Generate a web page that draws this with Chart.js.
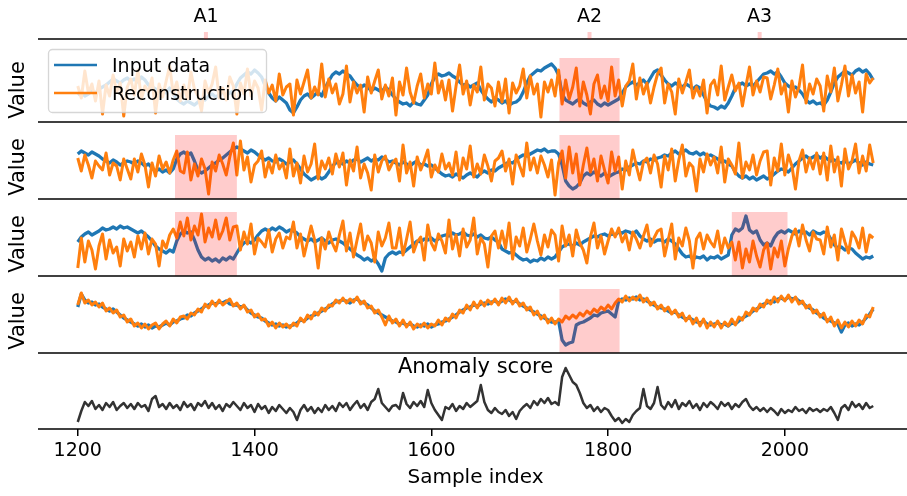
<!DOCTYPE html>
<html>
<head>
<meta charset="utf-8">
<script src="https://cdn.jsdelivr.net/npm/chart.js@4.4.0/dist/chart.umd.min.js"></script>
<style>
  html, body { margin: 0; padding: 0; background: #fff; overflow: hidden; }
  #wrap { position: relative; width: 907px; height: 496px; overflow: hidden; }
  #wrap canvas { position: absolute; left: 0; }
</style>
</head>
<body>
<div id="wrap">
  <canvas id="panel1"></canvas>
  <canvas id="panel2"></canvas>
  <canvas id="panel3"></canvas>
  <canvas id="panel4"></canvas>
  <canvas id="panel5"></canvas>
</div>
<script>
// sample index of the first value, one value every SAMPLE_STEP samples
const SAMPLE_START = 1200
const SAMPLE_STEP = 4
const X_TICKS = [1200, 1400, 1600, 1800, 2000]

const ANOMALY_NAMES = ['A1', 'A2', 'A3']
const ANOMALY_FROM = [1310, 1745, 1940]
const ANOMALY_TO = [1380, 1813, 2003]

const input1 = [
  -0.5, -0.2, -0.6, -0.4, -0.1, -0.3, 0.1, 0.3, 0.5, 0.8, 1.1, 0.9, 0.7, 1.0, 1.2,
  0.9, 1.1, 0.8, 1.3, 1.0, 0.5, 0.3, 0.1, -0.2, 0.0, -0.3, 0.2, -0.4, -0.9, -1.2,
  -1.4, -1.1, -1.3, -1.5, -1.2, -0.9, -1.0, -0.6, -0.4, -0.7, -0.5, -0.2, -0.5, -0.3, -0.1,
  0.6, 1.2, 1.5, 1.8, 1.6, 2.0, 1.7, 1.3, 0.4, -0.3, -0.8, -1.1, -0.7, -1.0, -1.3,
  -2.0, -2.3, -1.7, -1.0, -0.6, -0.4, -0.8, -0.5, -0.2, -0.6, 0.2, 0.9, 1.5, 1.8, 1.6,
  1.9, 1.6, 1.4, 0.9, 0.5, 0.2, 0.5, 0.3, -0.1, 0.2, 0.0, -0.2, 0.3, 0.0, -0.5,
  -0.9, -1.2, -1.4, -1.3, -1.6, -1.2, -1.4, -1.5, -1.0, -0.5, 0.6, 1.3, 1.6, 1.4, 1.5,
  1.7, 1.4, 1.2, 0.8, 0.5, 0.6, 0.3, 0.5, 0.7, 0.0, -0.5, -0.9, -1.2, -0.8, -1.0,
  -1.3, -1.1, -1.5, -1.3, -1.2, -0.9, -0.2, 0.7, 1.4, 1.7, 2.0, 1.9, 2.2, 2.4, 2.6,
  2.2, 1.5, -0.4, -1.0, -1.2, -1.4, -1.1, -0.9, -1.3, -1.5, -1.2, -1.0, -1.4, -1.6, -1.3,
  -1.5, -1.3, -1.1, -0.9, -0.3, 0.3, 0.6, 0.8, 0.5, 0.7, 1.0, 0.6, 1.2, 1.8, 2.0,
  1.5, 1.0, 0.6, 0.4, 0.7, 0.5, 0.3, 0.6, 0.4, 0.1, 0.4, 0.2, -0.5, -1.2, -1.6,
  -1.7, -1.9, -1.6, -1.8, -1.3, -0.6, 0.2, 0.5, 0.7, 0.4, 0.6, 0.4, 0.8, 1.2, 1.6,
  1.7, 1.9, 1.6, 1.8, 1.3, 0.7, 0.4, 0.2, 0.3, 0.0, -0.4, -1.0, -1.3, -1.1, -1.4,
  -1.3, -1.5, -1.0, -0.2, 0.7, 1.3, 1.6, 1.9, 1.7, 1.5, 1.9, 2.1, 1.8, 2.0, 1.6,
  1.0
]
const recon1 = [
  0.4, -0.8, 1.9, -0.3, 0.6, -1.1, 0.9, -2.4, 0.5, -0.6, 1.5, -0.2, 0.7, -2.6, 0.3,
  1.1, -0.5, 2.0, -0.9, 0.4, -0.2, 1.2, -2.3, 0.6, -0.7, 0.9, 2.4, -0.4, 0.8, -1.1,
  0.5, -0.9, 1.8, 0.1, -0.6, -2.1, 0.9, -0.3, 0.6, 2.3, -0.8, 0.2, -1.0, 1.3, 0.4,
  -2.4, 0.7, -0.4, 2.1, -0.6, 0.9, 0.2, -2.0, 1.0, -0.3, 0.5, -1.1, 1.6, -0.5, 0.3,
  0.6, -2.5, 1.0, -0.4, 0.8, 2.0, -0.8, 0.3, -0.5, 2.6, -0.7, 1.1, -0.3, 0.6, -1.4,
  -0.4, 2.4, -1.2, 0.8, -0.3, 0.5, -2.2, 1.3, -0.3, 0.9, 2.0, -0.9, 0.5, -0.6, 1.2,
  -2.5, 0.8, -0.5, 2.2, -0.2, -1.3, 0.4, 1.6, -0.8, 0.6, -0.4, 2.7, -0.3, 0.9, -1.0,
  1.0, -2.1, 0.4, 2.5, -0.4, 0.9, -1.5, 0.5, -0.2, 2.3, -1.0, 0.6, 0.2, -1.6, 0.8,
  -1.2, 1.1, -2.3, 0.7, -0.3, 0.4, 2.1, -0.8, 1.4, -0.4, 0.6, -2.7, 0.8, -0.2, 1.0,
  -0.6, 2.0, -1.4, 1.0, -0.9, 0.3, 2.2, -1.6, 0.8, -0.5, -2.4, 0.6, 1.5, -0.8, 0.4,
  -1.1, 2.3, -0.6, 1.0, -1.6, 0.4, 0.9, 2.6, -0.9, 1.2, -0.4, 0.7, -1.3, 0.3, 1.6,
  2.2, -1.3, 0.6, -0.2, -2.4, 1.1, -0.3, 0.8, 2.0, -0.8, 0.3, -0.6, 1.0, -2.3, 0.5,
  1.0, -0.5, 2.4, -1.0, 0.3, 1.5, -0.1, 0.7, -1.6, 0.4, 2.3, -0.5, 0.9, -0.2, 1.3,
  1.2, -0.9, 0.5, 2.1, -0.4, 0.6, -2.2, 0.9, -0.7, 0.3, 2.5, -1.3, 0.6, -0.4, 1.1,
  0.4, -2.1, 1.4, -0.2, 2.2, -1.1, 0.5, 2.4, -0.6, 1.5, -0.3, 0.8, -2.2, 1.6, 0.7,
  1.2
]

const input2 = [
  1.3, 1.6, 1.4, 1.2, 1.5, 1.3, 1.1, 0.8, 0.6, 0.4, 0.7, 0.5, 0.2, 0.4, 0.6,
  0.5, 0.3, 0.6, 0.4, 0.1, 0.3, -0.1, -0.4, -0.2, -0.5, -0.3, -0.6, -0.2, 0.8, 1.3,
  1.5, 1.2, 1.4, 0.6, -0.3, -0.6, -0.4, -0.1, 0.2, 0.4, 0.7, 0.9, 1.2, 1.5, 1.8,
  2.0, 1.8, 1.6, 1.4, 1.7, 1.5, 1.2, 0.9, 0.7, 0.9, 0.6, 0.5, 0.8, 0.6, 0.3,
  0.5, 0.7, 0.3, -0.2, -0.7, -1.0, -1.3, -1.1, -0.9, -1.2, -1.0, -0.5, 0.1, 0.4, 0.5,
  0.3, 0.6, 0.4, 0.7, 0.8, 0.5, 0.7, 0.9, 0.6, 0.8, 0.7, 1.0, 0.8, 0.5, 0.6,
  0.4, 0.2, 0.5, 0.3, 0.1, 0.4, 0.6, 0.2, 0.3, 0.1, 0.2, -0.1, -0.4, -0.7, -0.9,
  -0.8, -1.0, -0.7, -0.9, -1.1, -0.8, -0.6, -0.8, -1.0, -0.6, -0.4, -0.6, -0.3, -0.4, -0.1,
  0.1, 0.3, 0.5, 0.4, 0.7, 1.0, 1.2, 1.1, 1.3, 1.5, 1.7, 1.6, 1.8, 1.5, 1.6,
  1.6, 1.3, 0.2, -1.4, -1.9, -2.2, -2.0, -1.6, -0.9, -0.6, -0.8, -0.5, -0.7, -0.9, -0.6,
  -1.0, -0.8, -0.6, -0.5, -0.2, -0.3, 0.0, 0.2, 0.4, 0.3, 0.6, 0.5, 0.8, 0.7, 0.9,
  1.0, 1.2, 1.1, 1.4, 1.6, 1.3, 1.5, 1.7, 1.4, 1.3, 1.5, 1.2, 1.4, 1.1, 1.2,
  1.0, 0.8, 0.5, 0.6, 0.3, 0.1, -0.5, -0.9, -1.1, -0.9, -1.2, -1.0, -1.3, -1.1, -0.9,
  -1.2, -1.0, -0.7, -0.4, -0.2, -0.3, -0.5, -0.1, 0.3, 0.6, 0.9, 1.1, 0.8, 1.0, 1.2,
  0.9, 1.1, 0.8, 0.6, 0.7, 0.5, 0.4, 0.6, 0.3, 0.5, 0.7, 0.4, 0.2, 0.5, 0.3,
  0.2
]
const recon2 = [
  0.9, -0.4, 1.2, 0.2, -1.1, 0.6, 0.1, -0.3, 1.4, -0.8, 0.4, 0.1, -1.3, 0.8, -0.2,
  -1.2, 0.8, -0.5, 1.3, 0.2, -2.0, 0.4, -0.9, 1.1, -0.2, 0.5, -0.6, 0.7, 1.6, -0.4,
  -0.6, 1.5, -1.3, 0.3, -0.9, 0.8, -0.2, -2.7, 0.5, -0.4, 1.2, 0.3, -0.8, 1.0, 2.4,
  -0.8, 2.6, -0.3, 1.0, -1.5, 0.2, 0.6, 1.6, -1.0, 0.5, -0.6, 1.2, -0.2, 0.4, -1.1,
  1.8, -0.9, 0.4, -1.6, 1.1, -0.5, 0.3, 2.3, -1.2, 0.6, -0.2, 0.9, -0.7, 1.3, 0.0,
  1.4, -1.8, 0.7, -0.4, 2.0, -1.1, 0.3, -0.6, -2.3, 1.2, -0.5, 0.6, 1.1, -0.3, 0.4,
  0.8, -1.4, 2.2, -0.6, 0.5, -1.9, 1.0, -0.3, 0.6, 1.7, -1.0, 0.2, -0.5, 1.3, -0.2,
  0.4, -0.8, 1.5, -1.3, 0.9, -0.2, 2.1, -1.0, 0.3, -0.7, 1.2, 0.1, -1.4, 0.6, 0.9,
  1.6, -0.4, 0.8, -1.7, 1.2, 0.1, -0.9, 2.4, -0.3, 0.9, -0.6, 1.1, 0.2, -1.0, 0.7,
  -2.8, 0.4, 1.6, -1.1, 2.0, -0.6, 1.3, -1.8, 0.2, 1.9, -0.5, 0.8, -1.4, 1.1, -0.3,
  -1.6, 1.5, -0.4, 1.0, -2.2, 0.6, -0.8, 1.7, 0.1, -1.3, 0.5, 0.9, -0.6, 1.2, 0.3,
  -2.0, 1.1, -0.3, 1.8, -1.4, 0.7, 2.2, -0.9, 0.4, 0.0, -2.4, 0.8, -0.5, 1.3, 0.2,
  1.0, -0.6, 2.0, -1.5, 0.8, 0.2, -0.7, 2.4, -1.1, 0.5, -0.3, 1.2, -0.8, 0.6, 1.5,
  1.6, -1.8, 0.9, -0.4, 2.3, -0.8, 1.2, 0.1, -2.2, 0.6, 1.7, -0.5, 0.9, -0.2, 1.4,
  -0.7, 1.4, -1.3, 2.1, -0.5, 1.0, -1.9, 1.8, -0.2, 0.6, 2.3, -0.6, 1.1, -0.4, 2.2,
  0.4
]

const input3 = [
  0.2, 0.7, 1.0, 1.2, 0.9, 1.1, 1.3, 1.6, 1.4, 1.5, 1.7, 1.5, 1.8, 1.6, 1.7,
  1.5, 1.3, 1.1, 1.3, 1.0, 0.7, 0.3, -0.2, -0.5, -0.7, -0.9, -0.6, -0.8, 0.3, 1.0,
  1.3, 1.1, 1.2, 0.4, -0.6, -1.3, -1.6, -1.4, -1.7, -1.5, -1.8, -1.4, -1.6, -1.3, -1.5,
  -0.9, -0.3, 0.1, 0.3, 0.1, 0.4, 0.9, 1.3, 1.5, 1.3, 1.6, 1.4, 1.7, 1.5, 1.2,
  1.4, 1.3, 1.1, 0.7, 0.5, 0.3, 0.5, 0.2, 0.4, 0.6, 0.3, 0.1, 0.4, 0.5, 0.3,
  0.1, -0.2, -0.5, -0.8, -1.1, -1.3, -1.6, -1.4, -1.7, -1.5, -2.0, -2.7, -1.4, -1.0, -0.8,
  -1.0, -0.8, -0.9, -0.6, -0.3, 0.0, 0.3, 0.2, 0.5, 0.4, 0.6, 0.3, 0.5, 0.8, 0.9,
  0.8, 1.1, 0.9, 1.0, 1.2, 0.9, 0.8, 1.0, 0.7, 0.9, 0.6, 0.5, 0.7, 0.4, 0.2,
  -0.5, -0.7, -0.9, -0.8, -1.1, -1.4, -1.6, -1.5, -1.8, -1.6, -1.7, -1.4, -1.6, -1.3, -1.5,
  -1.3, -0.8, -0.3, -0.1, 0.0, -0.2, 0.1, -0.1, 0.2, 0.4, 0.6, 0.8, 0.7, 0.9, 1.0,
  0.8, 1.0, 0.9, 1.2, 1.1, 1.3, 1.2, 1.0, 1.3, 0.8, 0.5, 0.3, 0.5, 0.2, 0.4,
  0.4, 0.2, 0.5, 0.3, 0.0, -0.5, -1.0, -1.3, -1.2, -1.5, -1.3, -1.4, -1.2, -1.6, -1.3,
  -1.4, -1.2, -1.5, -1.3, -1.1, 0.9, 1.5, 1.3, 1.6, 2.8, 1.4, 1.1, 1.3, 0.4, -0.1,
  0.1, -0.2, 0.6, 1.1, 1.3, 1.1, 1.4, 1.2, 1.0, 1.3, 1.1, 1.2, 0.9, 1.3, 1.1,
  1.0, 1.2, 1.1, 0.5, -0.1, -0.4, -0.3, -0.6, -0.4, -0.5, -0.9, -1.2, -1.5, -1.3, -1.4,
  -1.2
]
const recon3 = [
  -2.4, 0.6, -1.8, 0.3, -0.6, -2.5, -0.2, 1.0, -1.5, 0.4, -0.9, -0.3, -2.2, 0.5, -0.7,
  0.2, -1.3, 0.8, -0.5, 1.1, -1.0, 0.5, 0.0, -2.2, 0.3, -0.4, 0.9, 1.5, 0.6, 2.2,
  0.8, 2.6, 0.4, 1.8, 0.9, 3.0, 0.2, 1.6, 0.7, 2.4, 0.5, 1.3, 2.6, 0.4, 1.7,
  1.8, -0.6, 1.2, 0.0, 2.0, -1.0, 0.6, 0.2, -0.3, 1.4, -0.8, 0.5, 1.1, -0.4, 0.7,
  0.5, 2.2, -0.4, 1.0, -1.2, 0.3, 1.8, 0.4, -2.4, 0.6, -0.5, 1.2, 0.1, -0.7, 0.9,
  2.3, -0.7, 1.1, -1.3, 0.4, 2.0, -0.6, 0.8, 0.1, -1.8, 1.2, -0.2, 0.6, 2.1, -0.4,
  -0.4, 1.6, -1.1, 0.5, 2.2, -0.8, 0.2, 0.7, -1.6, 1.9, 0.1, -0.6, 1.0, 0.3, -0.9,
  2.4, -0.5, 0.9, -1.2, 1.5, -0.3, 0.4, 2.6, -1.0, 0.6, 0.0, -2.3, 0.8, 1.3, -0.4,
  1.3, -0.4, 2.1, -1.5, 0.7, -0.2, 1.6, -0.8, 0.5, 2.0, 0.3, -1.1, 0.9, -0.3, 1.4,
  0.9, -1.7, 1.8, -0.2, 0.9, -1.2, 1.4, 0.1, -0.6, -1.9, 0.7, 2.1, -0.4, 0.8, -1.0,
  0.3, 1.5, 0.7, 1.6, 0.2, 1.0, -0.6, 1.2, 0.5, -0.4, 0.8, 1.9, -0.2, 0.6, 1.3,
  1.5, -1.2, 0.4, 2.0, -1.5, 0.6, -0.2, 1.6, 0.3, -2.4, 0.5, 1.1, -0.5, 0.9, 0.2,
  -0.3, 1.3, -0.9, 0.6, -0.4, 0.2, -1.6, 0.2, -2.4, -0.5, -1.8, 0.3, -1.2, -2.3, -0.6,
  0.1, -2.5, -0.4, -1.3, 0.3, -2.2, -0.5, 0.8, 1.5, -0.2, 1.9, 0.4, -0.7, 1.2, 0.5,
  0.4, -1.0, 1.7, -0.3, 0.9, -1.6, 1.5, 0.2, -0.9, 1.2, 0.6, -0.4, 1.6, -0.8, 0.9,
  0.6
]

const input4 = [
  1.4, 2.7, 2.1, 1.8, 1.9, 1.6, 1.7, 1.4, 1.2, 1.0, 1.2, 0.9, 0.6, 0.3, 0.1,
  -0.1, -0.3, -0.5, -0.3, -0.6, -0.4, -0.7, -0.5, -0.6, -0.4, -0.2, -0.4, -0.1, 0.0, 0.2,
  0.3, 0.6, 0.5, 0.8, 1.0, 1.2, 1.5, 1.6, 1.8, 1.7, 1.9, 1.8, 2.0, 1.7, 1.6,
  1.6, 1.4, 1.5, 1.1, 0.8, 0.6, 0.4, 0.3, 0.0, -0.2, -0.4, -0.3, -0.5, -0.4, -0.6,
  -0.5, -0.4, -0.2, 0.1, 0.0, 0.3, 0.5, 0.6, 0.8, 1.0, 1.2, 1.4, 1.7, 1.9, 2.0,
  2.1, 2.0, 1.8, 2.1, 2.2, 1.9, 1.8, 1.6, 1.3, 1.0, 0.8, 0.6, 0.4, 0.2, 0.0,
  -0.1, -0.3, -0.2, -0.4, -0.3, -0.5, -0.6, -0.4, -0.5, -0.3, -0.6, -0.4, -0.3, -0.1, 0.0,
  0.2, 0.4, 0.6, 0.9, 1.1, 1.3, 1.4, 1.6, 1.5, 1.7, 1.8, 1.7, 1.9, 2.0, 1.8,
  2.0, 2.2, 2.1, 1.9, 2.0, 1.7, 1.5, 1.3, 1.1, 0.9, 0.7, 0.5, 0.3, 0.1, -0.1,
  -0.1, 0.0, -1.9, -2.4, -2.2, -2.1, -0.4, -0.2, -0.1, 0.1, 0.3, 0.6, 0.5, 0.8, 0.9,
  1.0, 0.7, 0.4, 2.0, 2.2, 2.1, 2.3, 2.2, 2.4, 2.1, 2.2, 2.0, 1.8, 1.6, 1.4,
  1.3, 1.2, 1.0, 0.8, 0.9, 0.6, 0.4, 0.2, 0.3, 0.1, -0.1, -0.2, 0.0, -0.3, -0.4,
  -0.3, -0.2, -0.4, -0.3, -0.5, -0.2, -0.3, 0.0, 0.3, 0.5, 0.7, 1.0, 1.2, 1.4, 1.7,
  1.8, 2.0, 1.9, 2.2, 2.3, 2.1, 2.4, 2.2, 2.3, 2.0, 1.8, 1.5, 1.3, 1.1, 0.8,
  0.6, 0.3, 0.1, 0.0, -0.2, -0.3, -1.1, -0.4, -0.2, -0.5, -0.3, -0.4, -0.1, 0.3, 0.7,
  1.2
]
const recon4 = [
  1.6, 2.8, 1.8, 2.1, 1.6, 1.9, 1.4, 1.8, 1.0, 1.3, 0.8, 1.1, 0.4, 0.6, -0.1,
  0.2, -0.5, -0.2, -0.7, -0.3, -0.8, -0.4, -0.2, -0.8, -0.3, 0.0, -0.5, 0.2, -0.2, 0.4,
  0.5, 0.2, 0.8, 0.6, 1.2, 0.9, 1.7, 1.3, 2.0, 1.5, 2.1, 1.6, 1.9, 2.2, 1.5,
  1.8, 1.2, 1.6, 0.9, 1.1, 0.4, 0.7, 0.1, 0.2, -0.5, -0.1, -0.7, -0.2, -0.6, -0.3,
  -0.7, -0.2, -0.5, 0.3, -0.1, 0.6, 0.2, 0.9, 0.6, 1.3, 1.0, 1.6, 1.5, 2.1, 1.8,
  2.3, 1.8, 2.2, 1.9, 2.4, 1.7, 2.0, 1.3, 1.5, 0.8, 1.1, 0.4, -0.4, 0.5, -0.2,
  0.2, -0.5, 0.1, -0.6, -0.1, -0.8, -0.3, -0.6, -0.2, -0.7, -0.3, -0.5, 0.1, -0.4, 0.3,
  0.0, 0.7, 0.3, 1.1, 0.8, 1.6, 1.1, 1.9, 1.3, 2.0, 1.5, 2.1, 1.7, 2.2, 1.6,
  2.3, 1.8, 2.4, 1.7, 2.2, 1.5, 1.8, 1.1, 1.4, 0.6, 1.0, 0.2, 0.6, -0.2, 0.3,
  -0.3, 0.2, -0.1, 0.5, 0.2, 0.6, 0.3, 0.8, 0.5, 1.0, 0.7, 1.2, 0.9, 1.4, 1.1,
  1.6, 1.2, 1.8, 2.2, 1.9, 2.5, 2.0, 2.4, 2.1, 2.6, 1.9, 2.3, 1.6, 1.9, 1.2,
  1.6, 1.0, 1.4, 0.7, 1.1, 0.4, 0.8, 0.0, 0.5, -0.3, 0.3, -0.5, 0.2, -0.7, -0.1,
  -0.6, 0.0, -0.7, -0.1, -0.5, 0.2, -0.4, 0.4, 0.1, 0.9, 0.6, 1.3, 1.0, 1.7, 1.4,
  2.1, 1.7, 2.4, 1.9, 2.5, 2.0, 2.6, 1.9, 2.4, 1.7, 2.0, 1.3, 1.6, 0.8, 1.1,
  0.4, 0.8, -0.1, 0.4, -0.5, 0.1, -0.7, -0.1, -0.6, 0.0, -0.5, 0.1, -0.3, 0.6, 0.4,
  1.4
]

const anomalyScore = [
  -2.5, -1.4, -0.5, -0.9, -0.4, -1.2, -0.8, -1.3, -0.6, -1.0, -0.5, -1.3, -0.9, -0.6, -1.1,
  -0.7, -1.2, -0.6, -1.0, -0.8, -1.4, -0.2, 0.1, -1.0, -0.7, -1.2, -0.6, -1.1, -0.8, -1.3,
  -0.5, -1.0, -0.7, -1.3, -0.6, -0.9, -0.4, -1.1, -0.6, -1.2, -0.8, -1.4, -0.7, -1.0, -0.5,
  -0.9, -1.3, -0.6, -1.1, -0.8, -1.5, -0.7, -1.2, -0.9, -1.6, -1.0, -1.4, -0.8, -1.2, -1.6,
  -1.1, -1.5, -2.3, -1.3, -0.8, -1.4, -1.0, -1.6, -1.1, -1.5, -0.8, -1.3, -0.9, -1.4, -0.6,
  -1.0, -0.6, -1.3, -0.8, -0.4, -1.1, -0.7, -1.3, -0.5, -0.2, 0.8, -0.6, -1.0, -1.4, -0.9,
  -0.8, -1.2, 0.4, -0.7, -1.1, -0.5, -0.9, -0.4, -1.0, 0.7, -0.6, -1.3, -1.8, -2.3, -1.0,
  -1.2, -0.7, -1.4, -0.9, -1.2, -0.6, -1.0, -0.7, -0.4, 1.2, -0.5, -1.3, -1.6, -1.1, -1.5,
  -1.7, -1.3, -1.9, -1.5, -2.2, -1.4, -1.0, -0.7, -1.1, -0.4, -0.8, -0.2, -0.6, -0.1, -0.7,
  -0.5, -0.8, 2.0, 2.9, 2.2, 1.5, 1.2, 0.4, -0.6, -1.1, -0.8, -1.4, -1.0, -1.5, -1.1,
  -1.3, -1.9, -2.4, -2.1, -2.6, -2.2, -2.5, -1.8, -1.4, -1.1, 0.8, -0.9, -1.2, -0.6, 1.0,
  -0.8, -1.2, -0.5, -1.0, -0.3, -1.2, -0.6, -0.9, -0.4, -1.1, -0.7, -1.3, -0.6, -1.0, -0.5,
  -0.8, -1.2, -0.5, -0.9, -0.6, -1.2, -0.7, -1.0, -0.5, -0.2, -0.9, -1.3, -1.0, -1.4, -1.1,
  -1.5, -1.1, -1.4, -1.8, -1.2, -1.6, -1.3, -1.5, -1.0, -1.4, -1.2, -1.6, -1.1, -1.4, -1.2,
  -1.5, -1.2, -1.4, -1.0, -1.6, -2.3, -1.1, -0.8, -1.3, -0.5, -1.0, -0.7, -1.2, -0.6, -1.1,
  -0.9
]

const BLUE = '#1f77b4'
const ORANGE = '#ff7f0e'
const SCORE_COLOR = '#333333'
const FONT = 'DejaVu Sans'

Chart.defaults.font.family = FONT
Chart.defaults.color = '#000'
Chart.defaults.animation = false

const toPoints = (values) => values.map((v, i) => ({ x: SAMPLE_START + i * SAMPLE_STEP, y: v }))

const shadePlugin = {
  id: 'shade',
  afterDatasetsDraw(chart, args, opts) {
    const { ctx, chartArea: a, scales: { x } } = chart
    ctx.save()
    ctx.fillStyle = 'rgba(255,0,0,0.2)'
    ;(opts.regions || []).forEach((k) => {
      const l = x.getPixelForValue(ANOMALY_FROM[k])
      const r = x.getPixelForValue(ANOMALY_TO[k])
      ctx.fillRect(l, a.top, r - l, a.bottom - a.top)
    })
    ctx.restore()
  }
}

const spinePlugin = {
  id: 'spine',
  afterDraw(chart, args, opts) {
    const { ctx, chartArea: a } = chart
    ctx.save()
    ctx.strokeStyle = '#000'
    ctx.lineWidth = 1.6
    ;[a.bottom].concat(opts.extra || []).forEach((y) => {
      ctx.beginPath()
      ctx.moveTo(a.left, y)
      ctx.lineTo(a.right, y)
      ctx.stroke()
    })
    ctx.restore()
  }
}

const topLabelsPlugin = {
  id: 'topLabels',
  afterDraw(chart) {
    const { ctx, scales: { x } } = chart
    ctx.save()
    ctx.font = `19px "${FONT}"`
    ctx.textAlign = 'center'
    ctx.textBaseline = 'alphabetic'
    ANOMALY_NAMES.forEach((name, k) => {
      const cx = x.getPixelForValue((ANOMALY_FROM[k] + ANOMALY_TO[k]) / 2)
      ctx.fillStyle = 'rgba(255,0,0,0.2)'
      ctx.fillRect(cx - 2, 32, 4, 7)
      ctx.fillStyle = '#000'
      ctx.fillText(name, cx, 22)
    })
    ctx.restore()
  }
}

const boxLegendPlugin = {
  id: 'boxLegend',
  afterDraw(chart) {
    const { ctx } = chart
    ctx.save()
    ctx.beginPath()
    if (ctx.roundRect) ctx.roundRect(48.5, 49.5, 218, 63, 4)
    else ctx.rect(48.5, 49.5, 218, 63)
    ctx.fillStyle = 'rgba(255,255,255,0.8)'
    ctx.fill()
    ctx.strokeStyle = 'rgba(204,204,204,0.8)'
    ctx.lineWidth = 1.3
    ctx.stroke()
    ctx.font = `19px "${FONT}"`
    ctx.textBaseline = 'alphabetic'
    ctx.textAlign = 'left'
    chart.data.datasets.forEach((ds, i) => {
      const y = 65 + i * 28
      ctx.strokeStyle = ds.borderColor
      ctx.lineWidth = 2.6
      ctx.beginPath()
      ctx.moveTo(54, y)
      ctx.lineTo(97, y)
      ctx.stroke()
      ctx.fillStyle = '#000'
      ctx.fillText(ds.label, 112, y + 7)
    })
    ctx.restore()
  }
}

const scoreTitlePlugin = {
  id: 'scoreTitle',
  afterDraw(chart) {
    const { ctx, chartArea: a } = chart
    ctx.save()
    ctx.font = `21px "${FONT}"`
    ctx.textAlign = 'center'
    ctx.textBaseline = 'alphabetic'
    ctx.fillStyle = '#000'
    ctx.fillText('Anomaly score', (a.left + a.right) / 2, a.top + 7)
    ctx.restore()
  }
}

const xScale = (show) => ({
  type: 'linear',
  display: show,
  min: 1155,
  max: 2145,
  afterBuildTicks: (scale) => { scale.ticks = X_TICKS.map((v) => ({ value: v })) },
  afterFit: (scale) => { if (show) scale.height = 67 },
  border: { display: false },
  grid: { drawOnChartArea: false, color: '#000', lineWidth: 1.5, tickLength: 7 },
  ticks: { autoSkip: false, maxRotation: 0, padding: 4, font: { size: 19 }, callback: (v) => String(v) },
  title: { display: show, text: 'Sample index', font: { size: 20 }, padding: { top: 0, bottom: 6 } }
})

const yScale = (show, min, max) => ({
  display: show,
  min,
  max,
  afterFit: (scale) => { scale.width = 38 },
  border: { display: false },
  grid: { display: false },
  ticks: { display: false },
  title: { display: show, text: 'Value', font: { size: 21 }, padding: { top: 6, bottom: 0 } }
})

const panels = [
  { id: 'panel1', top: 0, height: 124, padTop: 58, input: input1, recon: recon1, regions: [1], first: true },
  { id: 'panel2', top: 120, height: 81, padTop: 15, input: input2, recon: recon2, regions: [0, 1] },
  { id: 'panel3', top: 197, height: 81, padTop: 15, input: input3, recon: recon3, regions: [0, 2] },
  { id: 'panel4', top: 274, height: 81, padTop: 15, input: input4, recon: recon4, regions: [1] }
]

panels.forEach((p) => {
  const canvas = document.getElementById(p.id)
  canvas.width = 913
  canvas.height = p.height
  canvas.style.top = p.top + 'px'
  const plugins = [shadePlugin, spinePlugin]
  if (p.first) plugins.push(topLabelsPlugin, boxLegendPlugin)
  new Chart(canvas, {
    type: 'line',
    data: {
      datasets: [
        { label: 'Input data', data: toPoints(p.input), borderColor: BLUE, borderWidth: 3.3, order: 2 },
        { label: 'Reconstruction', data: toPoints(p.recon), borderColor: ORANGE, borderWidth: 3, order: 1 }
      ]
    },
    options: {
      responsive: false,
      devicePixelRatio: 1,
      layout: { padding: { top: p.padTop, bottom: 2, left: 0, right: 0 } },
      elements: { point: { radius: 0 }, line: { tension: 0, borderJoinStyle: 'round' } },
      scales: { x: xScale(false), y: yScale(true, -3.2, 3.2) },
      plugins: {
        legend: { display: false },
        tooltip: { enabled: false },
        shade: { regions: p.regions },
        spine: { extra: p.first ? [39] : [] }
      }
    },
    plugins
  })
})

const scoreCanvas = document.getElementById('panel5')
scoreCanvas.width = 913
scoreCanvas.height = 145
scoreCanvas.style.top = '351px'
new Chart(scoreCanvas, {
  type: 'line',
  data: {
    datasets: [
      { label: 'Anomaly score', data: toPoints(anomalyScore), borderColor: SCORE_COLOR, borderWidth: 2.5 }
    ]
  },
  options: {
    responsive: false,
    devicePixelRatio: 1,
    layout: { padding: { top: 15, bottom: 0, left: 38, right: 0 } },
    elements: { point: { radius: 0 }, line: { tension: 0, borderJoinStyle: 'round' } },
    scales: { x: xScale(true), y: { display: false, min: -3.2, max: 3.1 } },
    plugins: {
      legend: { display: false },
      tooltip: { enabled: false },
      spine: {}
    }
  },
  plugins: [spinePlugin, scoreTitlePlugin]
})
</script>
</body>
</html>
